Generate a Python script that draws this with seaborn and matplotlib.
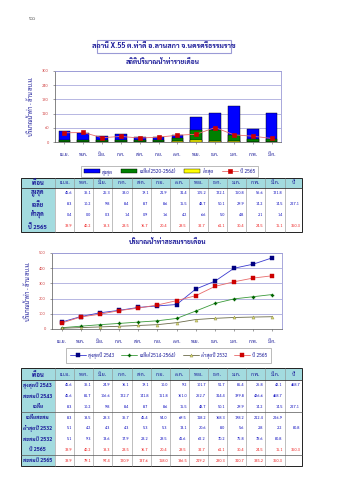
import matplotlib
matplotlib.use("Agg")
import matplotlib.pyplot as plt
from matplotlib import font_manager as fm
from matplotlib.patches import Rectangle
import seaborn as sns

# ---------------- data ----------------
months = ['เม.ย.', 'พ.ค.', 'มิ.ย.', 'ก.ค.', 'ส.ค.', 'ก.ย.',
          'ต.ค.', 'พ.ย.', 'ธ.ค.', 'ม.ค.', 'ก.พ.', 'มี.ค.']

max_month = [45.6, 36.1, 25.3, 33.0, 19.1, 21.9, 31.4, 105.2, 122.1, 150.8, 56.6, 121.8]
avg_month = [8.3, 10.2, 9.8, 8.4, 8.7, 8.6, 15.5, 48.7, 50.1, 29.9, 14.2, 14.5]
min_month = [0.4, 0.0, 0.3, 1.4, 0.9, 1.6, 4.2, 6.6, 5.0, 4.8, 2.1, 1.4]
y2565 = [38.9, 40.2, 18.3, 23.5, 16.7, 20.4, 28.5, 32.7, 61.1, 30.4, 24.5, 15.1]

max2543 = [45.6, 36.1, 24.9, 16.1, 19.1, 10.0, 9.2, 101.7, 51.7, 85.4, 26.8, 42.1]
cum2543 = [45.6, 81.7, 106.6, 122.7, 141.8, 151.8, 161.0, 262.7, 314.4, 399.8, 426.6, 468.7]
cum_avg = [8.3, 18.5, 28.3, 36.7, 45.4, 54.0, 69.5, 118.2, 168.3, 198.2, 212.4, 226.9]
min2532 = [5.1, 4.2, 4.3, 4.3, 5.3, 5.3, 13.1, 20.6, 8.0, 5.6, 2.8, 2.2]
cum2532 = [5.1, 9.3, 13.6, 17.9, 23.2, 28.5, 41.6, 62.2, 70.2, 75.8, 78.6, 80.8]
cum2565 = [38.9, 79.1, 97.4, 120.9, 137.6, 158.0, 186.5, 219.2, 280.3, 310.7, 335.2, 350.3]

year_avg = 227.1
year_2565 = 350.3
year_2543 = 468.7
year_2532 = 80.8

station = 'สถานี X.55 ต.ท่าดี อ.ลานสกา จ.นครศรีธรรมราช'
title1 = 'สถิติปริมาณน้ำท่ารายเดือน'
title2 = 'ปริมาณน้ำท่าสะสมรายเดือน'
ylabel = 'ปริมาณน้ำท่า - ล้าน ลบ.ม.'
page_no = '๖๐'

# ---------------- style ----------------
sns.set_theme(style='white')
names = {f.name for f in fm.fontManager.ttflist}
thai = next((n for n in ['Sarabun', 'Noto Sans Thai', 'Noto Sans Thai UI', 'Anuphan',
                         'Bai Jamjuree', 'Athiti'] if n in names), 'DejaVu Sans')
plt.rcParams['font.family'] = [thai, 'DejaVu Sans']
plt.rcParams['axes.unicode_minus'] = False

W, H = 339, 480
fig = plt.figure(figsize=(W / 100, H / 100), dpi=100)
fig.patch.set_facecolor('white')

def rect(x0, y0, x1, y1):
    return [x0 / W, 1 - y1 / H, (x1 - x0) / W, (y1 - y0) / H]

NAVY = '#1a1a99'
FRAME = '#9a9ad6'

# overlay for page text + tables
bg = fig.add_axes([0, 0, 1, 1], zorder=0)
bg.set_xlim(0, W)
bg.set_ylim(H, 0)
bg.axis('off')
bg.patch.set_alpha(0)

bg.text(33, 19, page_no, fontsize=4, color='#555555', ha='center', va='center')
bg.add_patch(Rectangle((97, 40), 134, 12.5, fill=False, edgecolor=FRAME, lw=0.8))
bg.text(164, 46.2, station, fontsize=5.2, color=NAVY, fontweight='bold', ha='center', va='center')
bg.text(163, 62, title1, fontsize=4.8, color=NAVY, fontweight='bold', ha='center', va='center')
bg.text(168, 242, title2, fontsize=4.8, color=NAVY, fontweight='bold', ha='center', va='center')


def style_axes(ax, ymax, step):
    ax.set_ylim(0, ymax)
    ax.set_yticks(range(0, ymax + 1, step))
    ax.set_xlim(-0.5, 11.5)
    ax.grid(axis='y', color=FRAME, lw=0.5)
    ax.set_axisbelow(True)
    for s in ['top', 'right']:
        ax.spines[s].set_color(FRAME)
        ax.spines[s].set_linewidth(0.6)
    for s in ['left', 'bottom']:
        ax.spines[s].set_color('#555555')
        ax.spines[s].set_linewidth(0.5)
    ax.tick_params(axis='y', labelsize=3, colors='#555555', labelcolor='#d04040',
                   length=1.5, width=0.4, pad=3, left=True)
    ax.tick_params(axis='x', labelsize=3.6, labelcolor=NAVY, colors='#555555',
                   length=1.5, width=0.4, pad=6, bottom=True)
    ax.set_xlabel('')
    ax.set_ylabel(ylabel, fontsize=4.2, color=NAVY, labelpad=6)


def ordered_legend(ax, order, **kw):
    h, l = ax.get_legend_handles_labels()
    d = dict(zip(l, h))
    leg = ax.legend([d[o] for o in order], order, **kw)
    leg.get_frame().set_linewidth(0.5)
    for t in leg.get_texts():
        t.set_color(NAVY)
    return leg


# ---------------- chart 1 ----------------
bar_labels = ['สูงสุด', 'เฉลี่ย(2520-2564)', 'ต่ำสุด']
ax1 = fig.add_axes(rect(55, 71, 281, 142), zorder=2)
for vals, lab, c in [(max_month, bar_labels[0], '#0000ff'),
                     (avg_month, bar_labels[1], '#008000'),
                     (min_month, bar_labels[2], '#ffff00')]:
    sns.barplot(x=months, y=vals, ax=ax1, color=c, saturation=1, width=0.62,
                edgecolor='#000000', linewidth=0.3, label=lab)
sns.pointplot(x=months, y=y2565, ax=ax1, color='#e86a6a', markers='s', linestyles='-',
              markersize=2.2, linewidth=0.6, errorbar=None, label='ปี 2565')
ln = ax1.lines[-1]
ln.set_markerfacecolor('#cc0000')
ln.set_markeredgecolor('#cc0000')
ln.set_zorder(6)
style_axes(ax1, 300, 60)
ordered_legend(ax1, bar_labels + ['ปี 2565'], loc='center',
               bbox_to_anchor=(169.5 / W, 1 - 171.5 / H),
               bbox_transform=fig.transFigure, ncol=4, fontsize=3.6, frameon=True,
               fancybox=False, edgecolor='#888888', borderpad=0.5, handlelength=3.2,
               handleheight=0.9, columnspacing=1.6, handletextpad=0.5)

# ---------------- chart 2 ----------------
ax2 = fig.add_axes(rect(52, 253, 282, 329), zorder=2)
series2 = [
    (cum2543, 'สูงสุดปี 2543', '#3a3ad0', '#000080', 's'),
    (cum_avg, 'เฉลี่ย(2514-2564)', '#3a9a3a', '#006400', 'P'),
    (cum2532, 'ต่ำสุดปี 2532', '#6b6b4a', '#d8d870', '^'),
    (cum2565, 'ปี 2565', '#e86a6a', '#cc0000', 's'),
]
for vals, lab, lc, mc, mk in series2:
    sns.pointplot(x=months, y=vals, ax=ax2, color=lc, markers=mk, linestyles='-',
                  markersize=2.2, linewidth=0.6, errorbar=None, label=lab)
    ln = ax2.lines[-1]
    ln.set_markerfacecolor(mc)
    ln.set_markeredgecolor(mc if mk != '^' else '#8a8a40')
    ln.set_markeredgewidth(0.3)
style_axes(ax2, 500, 100)
ordered_legend(ax2, [s[1] for s in series2], loc='center',
               bbox_to_anchor=(168.5 / W, 1 - 355.5 / H),
               bbox_transform=fig.transFigure, ncol=4, fontsize=3.6, frameon=True,
               fancybox=False, edgecolor='#888888', borderpad=0.8, handlelength=3.2,
               columnspacing=1.4, handletextpad=0.4)

# ---------------- tables ----------------
HEAD_BG = '#a3dbdf'
col_edges = [20.7, 55.0] + [55.0 + 19.13 * (i + 1) for i in range(12)] + [301.7]


def fmt(v):
    return '' if v is None else f'{v:.1f}'


def draw_table(top, head_bottom, bottom, rows, seps, label_fs):
    n = len(rows)
    rh = (bottom - head_bottom) / n
    bg.add_patch(Rectangle((col_edges[0], top), col_edges[-1] - col_edges[0], head_bottom - top,
                           facecolor=HEAD_BG, edgecolor='none'))
    bg.add_patch(Rectangle((col_edges[0], head_bottom), col_edges[1] - col_edges[0],
                           bottom - head_bottom, facecolor=HEAD_BG, edgecolor='none'))
    for x in col_edges[1:-1]:
        bg.plot([x, x], [top, bottom], color='#8c8c8c', lw=0.4)
    bg.plot([col_edges[0], col_edges[-1]], [head_bottom, head_bottom], color='#333333', lw=0.6)
    for i in seps:
        y = head_bottom + rh * i
        bg.plot([col_edges[0], col_edges[-1]], [y, y], color='#555555', lw=0.5)
    bg.add_patch(Rectangle((col_edges[0], top), col_edges[-1] - col_edges[0], bottom - top,
                           fill=False, edgecolor='#222222', lw=0.7))
    hy = (top + head_bottom) / 2
    heads = ['เดือน'] + months + ['ปี']
    for j, t in enumerate(heads):
        bg.text((col_edges[j] + col_edges[j + 1]) / 2, hy, t, fontsize=3.8 if j else 4.2,
                color=NAVY, ha='center', va='center', fontweight='bold' if j == 0 else 'normal')
    for i, (lab, vals, yv, col) in enumerate(rows):
        cy = head_bottom + rh * (i + 0.5)
        bg.text((col_edges[0] + col_edges[1]) / 2, cy, lab, fontsize=label_fs, color=NAVY,
                ha='center', va='center', fontweight='bold')
        for j, v in enumerate(vals):
            bg.text(col_edges[j + 2] - 2, cy, fmt(v), fontsize=2.9, color=col,
                    ha='right', va='center')
        if yv is not None:
            bg.text(col_edges[-1] - 1.5, cy, fmt(yv), fontsize=2.9, color=col,
                    ha='right', va='center')


VBLUE = '#1010c0'
RED = '#ee2020'
draw_table(178, 187.5, 232, [
    ('สูงสุด', max_month, None, VBLUE),
    ('เฉลี่ย', avg_month, year_avg, VBLUE),
    ('ต่ำสุด', min_month, None, VBLUE),
    ('ปี 2565', y2565, year_2565, RED),
], [], 4.2)

draw_table(368, 380, 466, [
    ('สูงสุดปี 2543', max2543, year_2543, VBLUE),
    ('สะสมปี 2543', cum2543, None, VBLUE),
    ('เฉลี่ย', avg_month, year_avg, VBLUE),
    ('เฉลี่ยสะสม', cum_avg, None, VBLUE),
    ('ต่ำสุดปี 2532', min2532, year_2532, VBLUE),
    ('สะสมปี 2532', cum2532, None, VBLUE),
    ('ปี 2565', y2565, year_2565, RED),
    ('สะสมปี 2565', cum2565, None, RED),
], [3, 7], 3.8)

fig.savefig('out.png', dpi=100, facecolor='white')
